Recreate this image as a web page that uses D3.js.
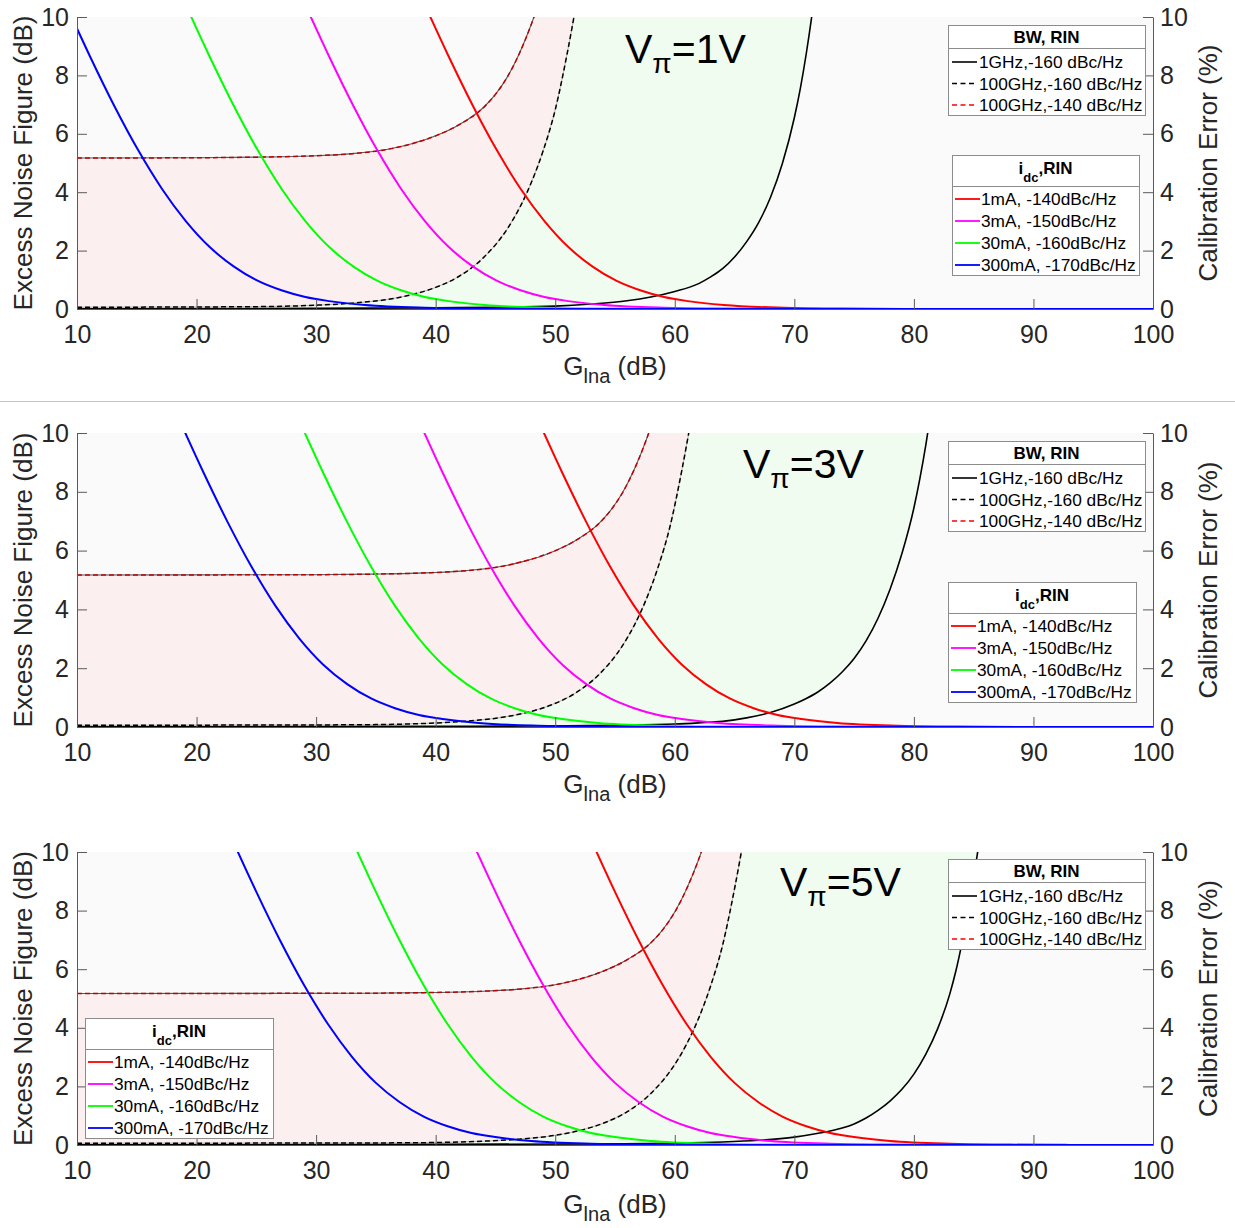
<!DOCTYPE html>
<html>
<head>
<meta charset="utf-8">
<script src="https://cdn.jsdelivr.net/npm/d3@7"></script>
<style>
  body { margin: 0; background: #ffffff; }
  svg { display: block; font-family: "Liberation Sans", Arial, Helvetica, sans-serif; }
</style>
</head>
<body>
<svg id="chart" width="1235" height="1228"></svg>
<script>
// ---------------- DATA ----------------
const X_TICKS = [10, 20, 30, 40, 50, 60, 70, 80, 90, 100];
const Y_TICKS = [0, 2, 4, 6, 8, 10];
const vpiLabels = ["1V", "3V", "5V"];
const idcNames = ["1mA, -140dBc/Hz", "3mA, -150dBc/Hz", "30mA, -160dBc/Hz", "300mA, -170dBc/Hz"];
const bwNames = ["1GHz,-160 dBc/Hz", "100GHz,-160 dBc/Hz", "100GHz,-140 dBc/Hz"];

// Excess noise figure (dB) levels
const nfLevels = [10.41, 8.64, 6.97, 5.45, 4.12, 3.01, 2.12, 1.46, 0.97, 0.64, 0.41, 0.27, 0.135, 0.043, 0.014, 0.004, 0];

// G_lna (dB) where each i_dc curve reaches the levels above
// V_pi = 1 V
const nfX_V1_1mA   = [39.1, 41.1, 43.1, 45.1, 47.1, 49.1, 51.1, 53.1, 55.1, 57.1, 59.1, 61.1, 64.1, 69.1, 74.1, 79.1, 100];
const nfX_V1_3mA   = [29.1, 31.1, 33.1, 35.1, 37.1, 39.1, 41.1, 43.1, 45.1, 47.1, 49.1, 51.1, 54.1, 59.1, 64.1, 69.1, 100];
const nfX_V1_30mA  = [19.1, 21.1, 23.1, 25.1, 27.1, 29.1, 31.1, 33.1, 35.1, 37.1, 39.1, 41.1, 44.1, 49.1, 54.1, 59.1, 100];
const nfX_V1_300mA = [9.1, 11.1, 13.1, 15.1, 17.1, 19.1, 21.1, 23.1, 25.1, 27.1, 29.1, 31.1, 34.1, 39.1, 44.1, 49.1, 100];
// V_pi = 3 V
const nfX_V3_1mA   = [48.6, 50.6, 52.6, 54.6, 56.6, 58.6, 60.6, 62.6, 64.6, 66.6, 68.6, 70.6, 73.6, 78.6, 83.6, 88.6, 100];
const nfX_V3_3mA   = [38.6, 40.6, 42.6, 44.6, 46.6, 48.6, 50.6, 52.6, 54.6, 56.6, 58.6, 60.6, 63.6, 68.6, 73.6, 78.6, 100];
const nfX_V3_30mA  = [28.6, 30.6, 32.6, 34.6, 36.6, 38.6, 40.6, 42.6, 44.6, 46.6, 48.6, 50.6, 53.6, 58.6, 63.6, 68.6, 100];
const nfX_V3_300mA = [18.6, 20.6, 22.6, 24.6, 26.6, 28.6, 30.6, 32.6, 34.6, 36.6, 38.6, 40.6, 43.6, 48.6, 53.6, 58.6, 100];
// V_pi = 5 V
const nfX_V5_1mA   = [53, 55, 57, 59, 61, 63, 65, 67, 69, 71, 73, 75, 78, 83, 88, 93, 100];
const nfX_V5_3mA   = [43, 45, 47, 49, 51, 53, 55, 57, 59, 61, 63, 65, 68, 73, 78, 83, 100];
const nfX_V5_30mA  = [33, 35, 37, 39, 41, 43, 45, 47, 49, 51, 53, 55, 58, 63, 68, 73, 100];
const nfX_V5_300mA = [23, 25, 27, 29, 31, 33, 35, 37, 39, 41, 43, 45, 48, 53, 58, 63, 100];

// Calibration error (%) curves
// V_pi = 1 V
const calX_V1_1G160   = [10, 30, 40, 45, 50, 53, 56, 58, 60, 62, 63, 64, 65, 66, 67, 68, 69, 70, 70.5, 71, 71.5, 72];
const calV_V1_1G160   = [0.01, 0.02, 0.04, 0.06, 0.1, 0.17, 0.28, 0.41, 0.6, 0.87, 1.1, 1.38, 1.78, 2.3, 2.95, 3.82, 4.98, 6.55, 7.55, 8.75, 10.15, 11.75];
const calX_V1_100G160 = [10, 20, 25, 30, 33, 36, 38, 40, 42, 44, 46, 47, 48, 49, 50, 51, 52];
const calV_V1_100G160 = [0.06, 0.07, 0.08, 0.13, 0.2, 0.33, 0.49, 0.74, 1.13, 1.76, 2.75, 3.45, 4.33, 5.43, 6.82, 8.75, 11.0];
const calX_V1_100G140 = [10, 20, 25, 30, 33, 36, 38, 40, 42, 44, 45, 46, 47, 48, 49];
const calV_V1_100G140 = [5.17, 5.18, 5.2, 5.25, 5.32, 5.47, 5.66, 5.93, 6.32, 6.9, 7.35, 7.95, 8.75, 9.75, 10.95];
// V_pi = 3 V
const calX_V3_1G160   = [10, 40, 50, 55, 60, 62, 64, 66, 68, 70, 71, 72, 73, 74, 75, 76, 77, 78, 79, 80, 80.5, 81, 81.5];
const calV_V3_1G160   = [0.01, 0.02, 0.04, 0.06, 0.1, 0.14, 0.19, 0.31, 0.49, 0.78, 0.97, 1.2, 1.5, 1.87, 2.33, 2.93, 3.7, 4.68, 5.9, 7.45, 8.45, 9.6, 10.9];
const calX_V3_100G160 = [10, 29.6, 34.6, 39.6, 42.6, 45.6, 47.6, 49.6, 51.6, 53.6, 55.6, 56.6, 57.6, 58.6, 59.6, 60.6, 61.6];
const calV_V3_100G160 = [0.06, 0.07, 0.08, 0.13, 0.2, 0.33, 0.49, 0.74, 1.13, 1.76, 2.75, 3.45, 4.33, 5.43, 6.82, 8.75, 11.0];
const calX_V3_100G140 = [10, 29.6, 34.6, 39.6, 42.6, 45.6, 47.6, 49.6, 51.6, 53.6, 54.6, 55.6, 56.6, 57.6, 58.6];
const calV_V3_100G140 = [5.17, 5.18, 5.2, 5.25, 5.32, 5.47, 5.66, 5.93, 6.32, 6.9, 7.35, 7.95, 8.75, 9.75, 10.95];
// V_pi = 5 V
const calX_V5_1G160   = [10, 40, 55, 60, 64, 67, 70, 72, 74, 75, 76, 77, 78, 79, 80, 81, 82, 83, 83.5, 84, 84.5, 85, 85.5];
const calV_V5_1G160   = [0.01, 0.02, 0.04, 0.06, 0.1, 0.16, 0.27, 0.4, 0.58, 0.72, 0.92, 1.18, 1.5, 1.9, 2.42, 3.1, 3.98, 5.15, 5.92, 6.85, 7.9, 9.1, 10.45];
const calX_V5_100G160 = [10, 34, 39, 44, 47, 50, 52, 54, 56, 58, 60, 61, 62, 63, 64, 65, 66];
const calV_V5_100G160 = [0.06, 0.07, 0.08, 0.13, 0.2, 0.33, 0.49, 0.74, 1.13, 1.76, 2.75, 3.45, 4.33, 5.43, 6.82, 8.75, 11.0];
const calX_V5_100G140 = [10, 34, 39, 44, 47, 50, 52, 54, 56, 58, 59, 60, 61, 62, 63];
const calV_V5_100G140 = [5.17, 5.18, 5.2, 5.25, 5.32, 5.47, 5.66, 5.93, 6.32, 6.9, 7.35, 7.95, 8.75, 9.75, 10.95];

// ---------------- TABLES BUILT FROM THE ARRAYS ----------------
const idcColors = ["#ff0000", "#ff00ff", "#00ff00", "#0000ff"];
const panelData = [
  { vpi: vpiLabels[0], idcX: [nfX_V1_1mA, nfX_V1_3mA, nfX_V1_30mA, nfX_V1_300mA],
    solid: [calX_V1_1G160, calV_V1_1G160], dash: [calX_V1_100G160, calV_V1_100G160], red: [calX_V1_100G140, calV_V1_100G140] },
  { vpi: vpiLabels[1], idcX: [nfX_V3_1mA, nfX_V3_3mA, nfX_V3_30mA, nfX_V3_300mA],
    solid: [calX_V3_1G160, calV_V3_1G160], dash: [calX_V3_100G160, calV_V3_100G160], red: [calX_V3_100G140, calV_V3_100G140] },
  { vpi: vpiLabels[2], idcX: [nfX_V5_1mA, nfX_V5_3mA, nfX_V5_30mA, nfX_V5_300mA],
    solid: [calX_V5_1G160, calV_V5_1G160], dash: [calX_V5_100G160, calV_V5_100G160], red: [calX_V5_100G140, calV_V5_100G140] }
];

// ---------------- LAYOUT ----------------
const svg = d3.select("#chart");
const PLOT_L = 77, PLOT_R = 1153;
const panelTops = [17, 433, 852];
const panelBottoms = [309, 727, 1145];
const titleOffsets = [66, 66, 68];
const vpiPos = [[625, 63], [743, 478], [780, 896]];
const bwLegendPos = [[948, 25], [948, 441], [948, 859]];
const idcLegendPos = [[952, 155, 187], [948, 582, 188], [85, 1018, 188]];
const BG = "#fafafa", PINK = "#fcefef", GREEN = "#effcef";
const AXIS_COL = "#5a5a5a", TXT = "#262626";

// separator between first two panels
svg.append("line").attr("x1", 0).attr("x2", 1235).attr("y1", 401.5).attr("y2", 401.5)
  .attr("stroke", "#c4c4c4").attr("stroke-width", 1.2);

panelData.forEach((cfg, i) => {
  const top = panelTops[i], bottom = panelBottoms[i];
  const x = d3.scaleLinear().domain([10, 100]).range([PLOT_L, PLOT_R]);
  const y = d3.scaleLinear().domain([0, 10]).range([bottom, top]);
  const yR = d3.scaleLinear().domain([0, 10]).range([bottom, top]);
  const g = svg.append("g");

  const clipId = "clip" + i;
  svg.append("defs").append("clipPath").attr("id", clipId)
    .append("rect").attr("x", PLOT_L).attr("y", top).attr("width", PLOT_R - PLOT_L).attr("height", bottom - top);

  g.append("rect").attr("x", PLOT_L).attr("y", top).attr("width", PLOT_R - PLOT_L).attr("height", bottom - top)
    .attr("fill", BG);

  const plot = g.append("g").attr("clip-path", `url(#${clipId})`);
  const line = d3.line().x(d => x(d[0])).y(d => yR(d[1])).curve(d3.curveMonotoneX);
  const P = (xs, vs) => line(d3.zip(xs, vs));
  const pt = (a, b) => `${x(a)},${yR(b)}`;
  const last = a => a[a.length - 1];

  // pink band: between 100GHz,-160 and 100GHz,-140
  plot.append("path")
    .attr("d", P(cfg.red[0], cfg.red[1]) + `L${pt(last(cfg.red[0]), 20)}L${pt(last(cfg.dash[0]), 20)}L${pt(last(cfg.dash[0]), 0)}L${pt(10, 0)}Z`)
    .attr("fill", PINK);
  // green band: between 1GHz,-160 and 100GHz,-160
  plot.append("path")
    .attr("d", P(cfg.dash[0], cfg.dash[1]) + `L${pt(last(cfg.dash[0]), 20)}L${pt(last(cfg.solid[0]), 20)}L${pt(last(cfg.solid[0]), 0)}L${pt(10, 0)}Z`)
    .attr("fill", GREEN);
  // background under 1GHz curve
  plot.append("path")
    .attr("d", P(cfg.solid[0], cfg.solid[1]) + `L${pt(100, last(cfg.solid[1]))}L${pt(100, 0)}L${pt(10, 0)}Z`)
    .attr("fill", BG);

  // calibration error lines
  plot.append("path").attr("d", P(cfg.solid[0], cfg.solid[1]))
    .attr("fill", "none").attr("stroke", "#000").attr("stroke-width", 1.6);
  plot.append("path").attr("d", P(cfg.dash[0], cfg.dash[1]))
    .attr("fill", "none").attr("stroke", "#b4b4b4").attr("stroke-width", 1);
  plot.append("path").attr("d", P(cfg.dash[0], cfg.dash[1]))
    .attr("fill", "none").attr("stroke", "#000").attr("stroke-width", 1.5).attr("stroke-dasharray", "5,3");
  plot.append("path").attr("d", P(cfg.red[0], cfg.red[1]))
    .attr("fill", "none").attr("stroke", "#5a5a5a").attr("stroke-width", 1.1);
  plot.append("path").attr("d", P(cfg.red[0], cfg.red[1]))
    .attr("fill", "none").attr("stroke", "#c00000").attr("stroke-width", 1.5).attr("stroke-dasharray", "5,3");

  // excess noise figure lines
  const nfLine = d3.line().x(d => x(d[0])).y(d => y(d[1])).curve(d3.curveMonotoneX);
  cfg.idcX.forEach((xs, k) => {
    plot.append("path").attr("d", nfLine(d3.zip(xs, nfLevels)))
      .attr("fill", "none").attr("stroke", idcColors[k]).attr("stroke-width", 2);
  });

  // axes
  const styleAxis = sel => {
    sel.selectAll("path.domain").attr("stroke", AXIS_COL).attr("stroke-width", 1);
    sel.selectAll(".tick line").attr("stroke", AXIS_COL).attr("stroke-width", 1);
    sel.selectAll(".tick text").attr("fill", TXT).attr("font-size", 25)
      .attr("font-family", '"Liberation Sans", Arial, sans-serif');
  };
  g.append("g").attr("transform", `translate(0,${bottom})`)
    .call(d3.axisBottom(x).tickValues(X_TICKS).tickFormat(d3.format("d")).tickSizeInner(-10).tickSizeOuter(0).tickPadding(16))
    .call(styleAxis);
  g.append("g").attr("transform", `translate(${PLOT_L},0)`)
    .call(d3.axisLeft(y).tickValues(Y_TICKS).tickFormat(d3.format("d")).tickSizeInner(-10).tickSizeOuter(0).tickPadding(8))
    .call(styleAxis);
  g.append("g").attr("transform", `translate(${PLOT_R},0)`)
    .call(d3.axisRight(yR).tickValues(Y_TICKS).tickFormat(d3.format("d")).tickSizeInner(-10).tickSizeOuter(0).tickPadding(7))
    .call(styleAxis);

  // axis titles
  const midY = (top + bottom) / 2;
  g.append("text").attr("transform", `translate(32,${midY}) rotate(-90)`)
    .attr("text-anchor", "middle").attr("font-size", 26).attr("fill", TXT)
    .text("Excess Noise Figure (dB)");
  g.append("text").attr("transform", `translate(1217,${midY}) rotate(-90)`)
    .attr("text-anchor", "middle").attr("font-size", 26).attr("fill", TXT)
    .text("Calibration Error (%)");
  const xt = g.append("text").attr("x", (PLOT_L + PLOT_R) / 2).attr("y", bottom + titleOffsets[i])
    .attr("text-anchor", "middle").attr("font-size", 26).attr("fill", TXT);
  xt.append("tspan").text("G");
  xt.append("tspan").attr("dy", 8).attr("font-size", 20).text("lna");
  xt.append("tspan").attr("dy", -8).text(" (dB)");

  // V_pi label
  const vt = g.append("text").attr("x", vpiPos[i][0]).attr("y", vpiPos[i][1])
    .attr("font-size", 41).attr("fill", "#000");
  vt.append("tspan").text("V");
  vt.append("tspan").attr("dy", 10).attr("font-size", 28).text("π");
  vt.append("tspan").attr("dy", -10).text("=" + cfg.vpi);

  // BW legend
  {
    const [L, T] = bwLegendPos[i];
    const Wd = 197, Ht = 90;
    const lg = g.append("g");
    lg.append("rect").attr("x", L + 0.5).attr("y", T + 0.5).attr("width", Wd).attr("height", Ht)
      .attr("fill", "#fff").attr("stroke", "#8c8c8c").attr("stroke-width", 1);
    lg.append("line").attr("x1", L + 0.5).attr("x2", L + Wd + 0.5).attr("y1", T + 23.5).attr("y2", T + 23.5)
      .attr("stroke", "#8c8c8c").attr("stroke-width", 1);
    lg.append("text").attr("x", L + Wd / 2).attr("y", T + 18).attr("text-anchor", "middle")
      .attr("font-size", 17).attr("font-weight", "bold").attr("fill", "#000").text("BW, RIN");
    const styles = [["#000", null], ["#000", "5,3.5"], ["#ff0000", "5,3.5"]];
    bwNames.forEach((nm, k) => {
      const cy = T + 37 + k * 21.5;
      lg.append("line").attr("x1", L + 4).attr("x2", L + 29).attr("y1", cy).attr("y2", cy)
        .attr("stroke", styles[k][0]).attr("stroke-width", 1.6)
        .attr("stroke-dasharray", styles[k][1]);
      lg.append("text").attr("x", L + 31).attr("y", cy + 6).attr("font-size", 17.3).attr("fill", "#000").text(nm);
    });
  }

  // i_dc legend
  {
    const [L, T, Wd] = idcLegendPos[i];
    const Ht = 120;
    const lg = g.append("g");
    lg.append("rect").attr("x", L + 0.5).attr("y", T + 0.5).attr("width", Wd).attr("height", Ht)
      .attr("fill", "#fff").attr("stroke", "#8c8c8c").attr("stroke-width", 1);
    lg.append("line").attr("x1", L + 0.5).attr("x2", L + Wd + 0.5).attr("y1", T + 31.5).attr("y2", T + 31.5)
      .attr("stroke", "#8c8c8c").attr("stroke-width", 1);
    const tt = lg.append("text").attr("x", L + Wd / 2).attr("y", T + 19).attr("text-anchor", "middle")
      .attr("font-size", 17).attr("font-weight", "bold").attr("fill", "#000");
    tt.append("tspan").text("i");
    tt.append("tspan").attr("dy", 8).attr("font-size", 13).text("dc");
    tt.append("tspan").attr("dy", -8).text(",RIN");
    idcNames.forEach((nm, k) => {
      const cy = T + 44 + k * 22;
      lg.append("line").attr("x1", L + 3).attr("x2", L + 28).attr("y1", cy).attr("y2", cy)
        .attr("stroke", idcColors[k]).attr("stroke-width", 1.8);
      lg.append("text").attr("x", L + 29).attr("y", cy + 6).attr("font-size", 17.3).attr("fill", "#000").text(nm);
    });
  }
});
</script>
</body>
</html>
